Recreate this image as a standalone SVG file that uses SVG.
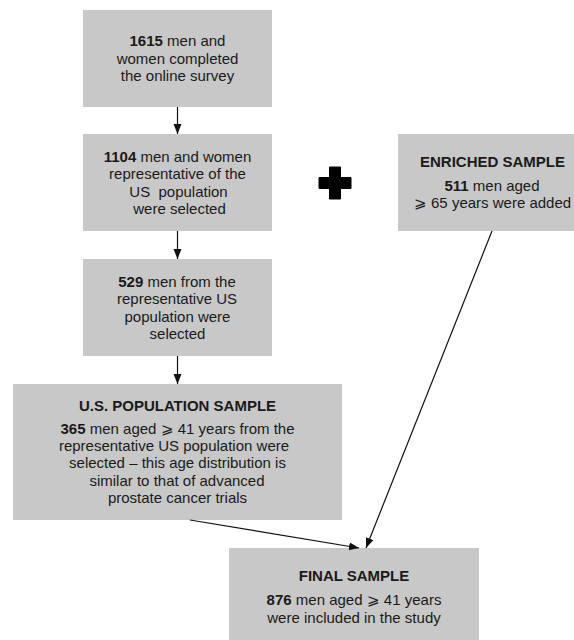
<svg xmlns="http://www.w3.org/2000/svg" width="574" height="640" viewBox="0 0 574 640">
<defs>
<style>
.box{fill:#c8c8c8;}
text{font-family:"Liberation Sans",Arial,Helvetica,sans-serif;font-size:15px;fill:#1a1a1a;text-anchor:middle;}
.b{font-weight:bold;}
.edge{stroke:#111;stroke-width:1.2;fill:none;marker-end:url(#ah);}
</style>
<marker id="ah" markerUnits="userSpaceOnUse" markerWidth="11" markerHeight="9" refX="10" refY="4" orient="auto">
<path d="M0,0 L10,4 L0,8 Z" fill="#111"/>
</marker>
</defs>
<rect width="574" height="640" fill="#fff"/>
<g id="n1">
<rect class="box" x="83" y="10" width="189" height="97"/>
<text x="177.5" y="46"><tspan class="b">1615</tspan> men and</text>
<text x="177.5" y="64">women completed</text>
<text x="177.5" y="81">the online survey</text>
</g>
<g id="n2">
<rect class="box" x="83" y="134" width="189" height="97"/>
<text x="177.5" y="162"><tspan class="b">1104</tspan> men and women</text>
<text x="177.5" y="179">representative of the</text>
<text x="178.5" y="197" xml:space="preserve">US  population</text>
<text x="179.5" y="214">were selected</text>
</g>
<g id="n3">
<rect class="box" x="83" y="259" width="189" height="97"/>
<text x="177" y="287"><tspan class="b">529</tspan> men from the</text>
<text x="177" y="304">representative US</text>
<text x="177.5" y="322">population were</text>
<text x="177.5" y="339">selected</text>
</g>
<g id="n4">
<rect class="box" x="13" y="384" width="329" height="136"/>
<text class="b" x="177.5" y="410.5">U.S. POPULATION SAMPLE</text>
<text x="177.5" y="434"><tspan class="b">365</tspan> men aged ⩾ 41 years from the</text>
<text x="174" y="451">representative US population were</text>
<text x="177.5" y="468">selected – this age distribution is</text>
<text x="177" y="485.5">similar to that of advanced</text>
<text x="177.5" y="503">prostate cancer trials</text>
</g>
<g id="plus">
<path d="M329.5,167 h11 v10.5 h10.5 v11 h-10.5 v10.5 h-11 v-10.5 h-10.5 v-11 h10.5 z" fill="#000" stroke="#000" stroke-width="1" stroke-linejoin="round"/>
</g>
<g id="n5">
<rect class="box" x="398" y="134" width="190" height="97"/>
<text class="b" x="492.5" y="167">ENRICHED SAMPLE</text>
<text x="492" y="191"><tspan class="b">511</tspan> men aged</text>
<text x="492.5" y="208">⩾ 65 years were added</text>
</g>
<g id="n6">
<rect class="box" x="229" y="548" width="250" height="92"/>
<text class="b" x="354" y="581">FINAL SAMPLE</text>
<text x="354" y="605"><tspan class="b">876</tspan> men aged ⩾ 41 years</text>
<text x="354" y="623">were included in the study</text>
</g>
<g id="connectors">
<line class="edge" x1="177.5" y1="107" x2="177.5" y2="134"/>
<line class="edge" x1="177.5" y1="231" x2="177.5" y2="259"/>
<line class="edge" x1="177.5" y1="356" x2="177.5" y2="384"/>
<line class="edge" x1="190" y1="520" x2="359" y2="548"/>
<line class="edge" x1="492" y1="231" x2="366" y2="548"/>
</g>
</svg>
